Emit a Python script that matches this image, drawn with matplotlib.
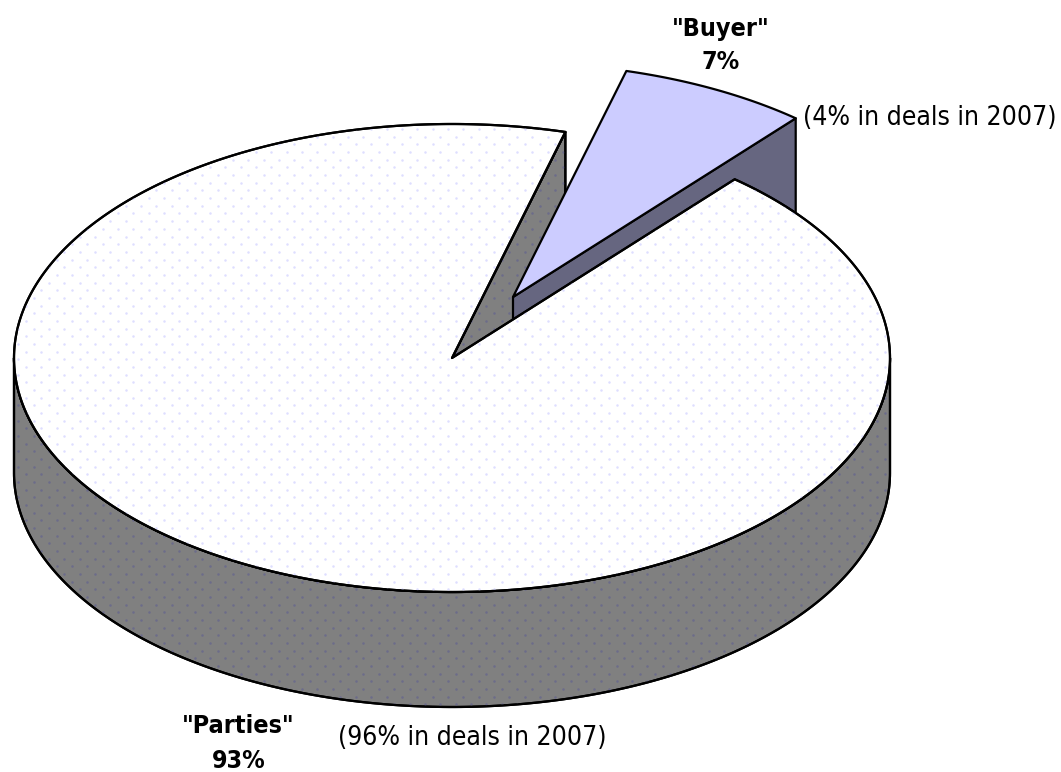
import numpy as np
import matplotlib
matplotlib.use("Agg")
import matplotlib.pyplot as plt
from matplotlib.patches import Polygon

categories = ['"Parties"', '"Buyer"']
shares = [93, 7]
share_labels = ["93%", "7%"]
notes_2007 = ["(96% in deals in 2007)", "(4% in deals in 2007)"]

W, H = 1061, 772
CX, CY, RX, RY, DEPTH = 452, 358, 438, 234, 115
OFFSET = (61, -61)
FIRST_ANGLE = 15.0
FONT = "DejaVu Sans"

fig = plt.figure(figsize=(W / 100, H / 100), dpi=100, facecolor="white")
ax = fig.add_axes([0, 0, 1, 1])
ax.set_xlim(0, W)
ax.set_ylim(H, 0)
ax.axis("off")


def rim(deg, dx=0.0, dy=0.0):
    a = np.radians(np.asarray(deg, dtype=float))
    return np.column_stack([CX + dx + RX * np.sin(a), CY + dy - RY * np.cos(a)])


buyer_sweep = shares[1] / sum(shares) * 360
a0 = FIRST_ANGLE
a1 = FIRST_ANGLE + buyer_sweep

LW = 1.6
lines = dict(edgecolor="black", linewidth=LW, joinstyle="round")

# Main slice: outer side wall
arc = np.linspace(90, 270, 240)
side_xy = np.vstack([rim(arc), rim(arc[::-1], dy=DEPTH)])
side = Polygon(side_xy, closed=True, facecolor="#808080", zorder=1, **lines)
ax.add_patch(side)

# Main slice: inner wall seen through the gap
wall_xy = np.vstack([[[CX, CY]], rim([a0]), rim([a0], dy=DEPTH), [[CX, CY + DEPTH]]])
wall = Polygon(wall_xy, closed=True, facecolor="#808080", zorder=2, **lines)
ax.add_patch(wall)

# Buyer slice: front wall
bw_xy = np.vstack([[[CX + OFFSET[0], CY + OFFSET[1]]], rim([a1], *OFFSET),
                   rim([a1], OFFSET[0], OFFSET[1] + DEPTH),
                   [[CX + OFFSET[0], CY + OFFSET[1] + DEPTH]]])
bwall = Polygon(bw_xy, closed=True, facecolor="#666680", zorder=3, **lines)
ax.add_patch(bwall)

# Main slice: top
top_arc = np.linspace(a1, a0 + 360, 600)
top_xy = np.vstack([[[CX, CY]], rim(top_arc)])
top = Polygon(top_xy, closed=True, facecolor="white", zorder=4, **lines)
ax.add_patch(top)

# Buyer slice: top
b_arc = np.linspace(a0, a1, 60)
btop_xy = np.vstack([[[CX + OFFSET[0], CY + OFFSET[1]]], rim(b_arc, *OFFSET)])
btop = Polygon(btop_xy, closed=True, facecolor="#CCCCFF", zorder=5, **lines)
ax.add_patch(btop)

# Dotted fill texture of the large slice
STEP = 7.67
gx, gy = np.meshgrid(np.arange(0, 130), np.arange(0, 100))
keep = (gx + gy) % 2 == 0
px = 3.0 + gx[keep] * STEP
py = 6.4 + gy[keep] * STEP
d1 = ax.scatter(px, py, s=3.2, c="#DEDEFF", linewidths=0, zorder=4.1)
d1.set_clip_path(Polygon(top_xy, closed=True, transform=ax.transData))
for patch_xy, order in ((side_xy, 1.5), (wall_xy, 2.5)):
    d2 = ax.scatter(px, py, s=3.2, c="#6C6C8A", linewidths=0, zorder=order)
    d2.set_clip_path(Polygon(patch_xy, closed=True, transform=ax.transData))

# Redraw the outlines above the dots
for xy, order in ((side_xy, 1.6), (wall_xy, 2.6), (top_xy, 4.2)):
    ax.add_patch(Polygon(xy, closed=True, fill=False, zorder=order, **lines))

bold = dict(family=FONT, fontsize=18, fontweight="bold", ha="center", va="center",
            color="black", zorder=6, stretch="condensed")
plain = dict(family=FONT, fontsize=19, va="center", color="black", zorder=6,
             stretch="condensed")

ax.text(721, 29, categories[1], **bold)
ax.text(721, 62, share_labels[1], **bold)
ax.text(803, 118, notes_2007[1], ha="left", **plain)
ax.text(238, 726, categories[0], **bold)
ax.text(239, 761, share_labels[0], **bold)
ax.text(338, 738, notes_2007[0], ha="left", **plain)

fig.savefig("out.png", dpi=100, facecolor="white")
